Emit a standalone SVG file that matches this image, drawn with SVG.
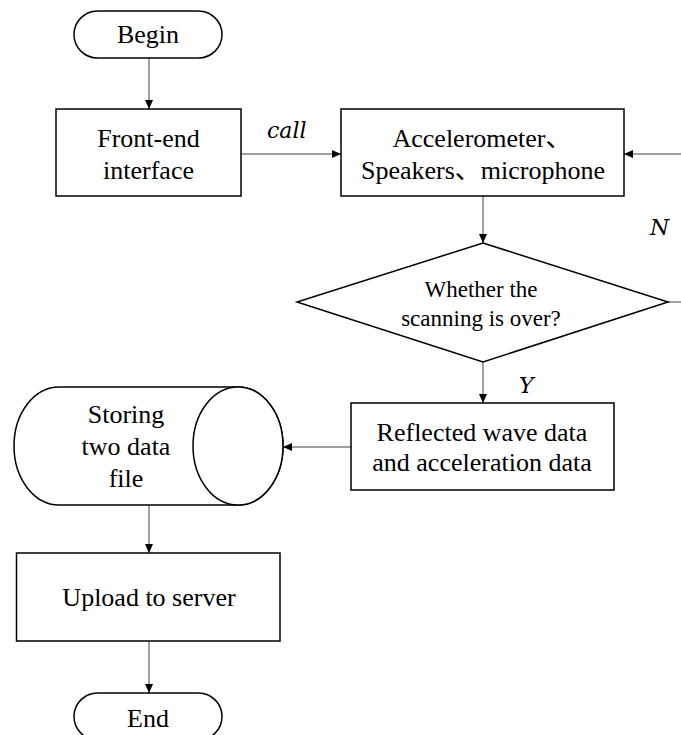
<svg xmlns="http://www.w3.org/2000/svg" width="681" height="735" viewBox="0 0 681 735">
<style>
.shape{fill:#fff;stroke:#000;stroke-width:1.5}
.t{font-family:'Liberation Serif','Times New Roman',Tinos,'Nimbus Roman','DejaVu Serif',serif;font-size:26px;fill:#000;text-anchor:middle}
.td{font-family:'Liberation Serif','Times New Roman',Tinos,'Nimbus Roman','DejaVu Serif',serif;font-size:23px;fill:#000;text-anchor:middle}
.lbl{font-family:'DejaVu Serif','Liberation Serif',serif;font-style:italic;font-size:22px;fill:#000}
.c{fill:none;stroke:#404040;stroke-width:1}
</style>
<defs>
<marker id="ah" markerWidth="10" markerHeight="10" refX="9" refY="4" orient="auto" markerUnits="userSpaceOnUse">
<path d="M0,0 L9,4 L0,8 Z" fill="#000"/>
</marker>
</defs>
<g id="connectors">
<line class="c" x1="149" y1="58" x2="149" y2="109" marker-end="url(#ah)"/>
<line class="c" x1="241" y1="154" x2="341" y2="154" marker-end="url(#ah)"/>
<line class="c" x1="681" y1="154" x2="624" y2="154" marker-end="url(#ah)"/>
<line class="c" x1="483" y1="196" x2="483" y2="243" marker-end="url(#ah)"/>
<line class="c" x1="668" y1="302" x2="681" y2="302"/>
<line class="c" x1="483" y1="362" x2="483" y2="403" marker-end="url(#ah)"/>
<line class="c" x1="351" y1="447" x2="283" y2="447" marker-end="url(#ah)"/>
<line class="c" x1="149" y1="505" x2="149" y2="553" marker-end="url(#ah)"/>
<line class="c" x1="149" y1="641" x2="149" y2="693" marker-end="url(#ah)"/>
<text class="lbl" x="267" y="138">call</text>
<text class="lbl" x="650" y="235">N</text>
<text class="lbl" x="519" y="393">Y</text>
</g>
<g id="begin">
<rect class="shape" x="74" y="11" width="148" height="47" rx="23.5" ry="23.5"/>
<text class="t" x="148" y="43">Begin</text>
</g>
<g id="frontend">
<rect class="shape" x="56" y="109" width="185" height="87"/>
<text class="t" x="148.5" y="147">Front-end</text>
<text class="t" x="148.5" y="179">interface</text>
</g>
<g id="sensors">
<rect class="shape" x="341" y="109" width="283" height="87"/>
<text class="t" x="482" y="147">Accelerometer<tspan font-family="'Noto Sans CJK SC',sans-serif">、</tspan></text>
<text class="t" x="483" y="179">Speakers<tspan font-family="'Noto Sans CJK SC',sans-serif">、</tspan>microphone</text>
</g>
<g id="decision">
<polygon class="shape" points="483,243 668,302 483,362 297,302"/>
<text class="td" x="481" y="297">Whether the</text>
<text class="td" x="481" y="326">scanning is over?</text>
</g>
<g id="data">
<rect class="shape" x="351" y="403" width="263" height="87"/>
<text class="t" x="482" y="441">Reflected wave data</text>
<text class="t" x="482" y="471">and acceleration data</text>
</g>
<g id="storage">
<path class="shape" d="M59,387 L238,387 A45,59 0 0 1 238,505 L59,505 A45,59 0 0 1 59,387 Z"/>
<ellipse class="shape" cx="238" cy="446" rx="45" ry="59"/>
<text class="t" x="126" y="423">Storing</text>
<text class="t" x="126" y="455">two data</text>
<text class="t" x="126" y="487">file</text>
</g>
<g id="upload">
<rect class="shape" x="16.5" y="553" width="263.5" height="88"/>
<text class="t" x="149" y="606">Upload to server</text>
</g>
<g id="end">
<rect class="shape" x="74" y="693" width="148" height="47" rx="23.5" ry="23.5"/>
<text class="t" x="148" y="727">End</text>
</g>
</svg>
